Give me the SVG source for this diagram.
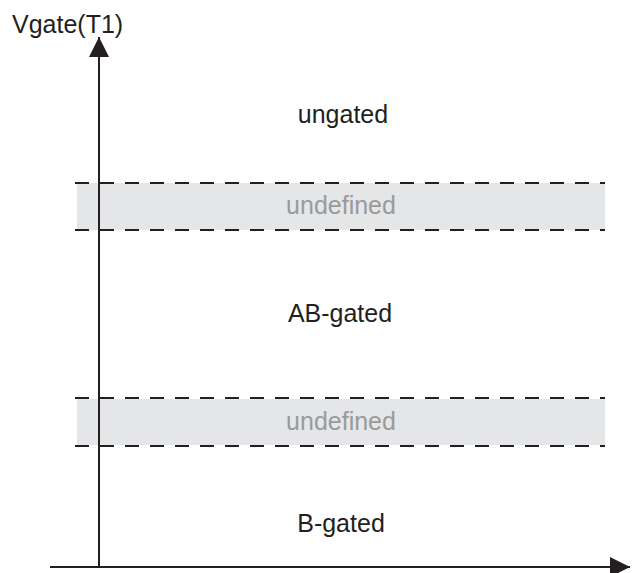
<svg xmlns="http://www.w3.org/2000/svg" width="633" height="573" viewBox="0 0 633 573">
<style>
text{font-family:"Liberation Sans",Arial,sans-serif;font-size:25px;fill:#231f20}
.u{fill:#9a9a9a}
.band{fill:#e5e6e7}
.dash{stroke:#231f20;stroke-width:2;stroke-dasharray:14 11;fill:none}
.axis{stroke:#231f20;stroke-width:2;fill:none}
</style>
<defs>
<marker id="ah" viewBox="0 0 20 20" refX="20" refY="10" markerWidth="20" markerHeight="20" markerUnits="userSpaceOnUse" orient="auto">
<path d="M0,0 L20,10 L0,20 Z" fill="#231f20"/>
</marker>
</defs>
<g id="bands">
<rect class="band" x="77" y="183" width="528" height="47"/>
<rect class="band" x="77" y="399" width="528" height="46"/>
</g>
<g id="boundaries">
<line class="dash" x1="75" y1="183" x2="605" y2="183"/>
<line class="dash" x1="75" y1="230" x2="605" y2="230"/>
<line class="dash" x1="75" y1="398" x2="605" y2="398"/>
<line class="dash" x1="75" y1="446" x2="605" y2="446"/>
</g>
<g id="connectors">
<line class="axis" x1="99" y1="568" x2="99" y2="37" marker-end="url(#ah)"/>
<line class="axis" x1="50" y1="567" x2="630" y2="567" marker-end="url(#ah)"/>
</g>
<g id="labels">
<text x="12" y="33">Vgate(T1)</text>
<text x="343" y="123" text-anchor="middle">ungated</text>
<text class="u" x="341" y="214" text-anchor="middle">undefined</text>
<text x="340" y="322" text-anchor="middle">AB-gated</text>
<text class="u" x="341" y="430" text-anchor="middle">undefined</text>
<text x="341" y="532" text-anchor="middle">B-gated</text>
</g>
</svg>
